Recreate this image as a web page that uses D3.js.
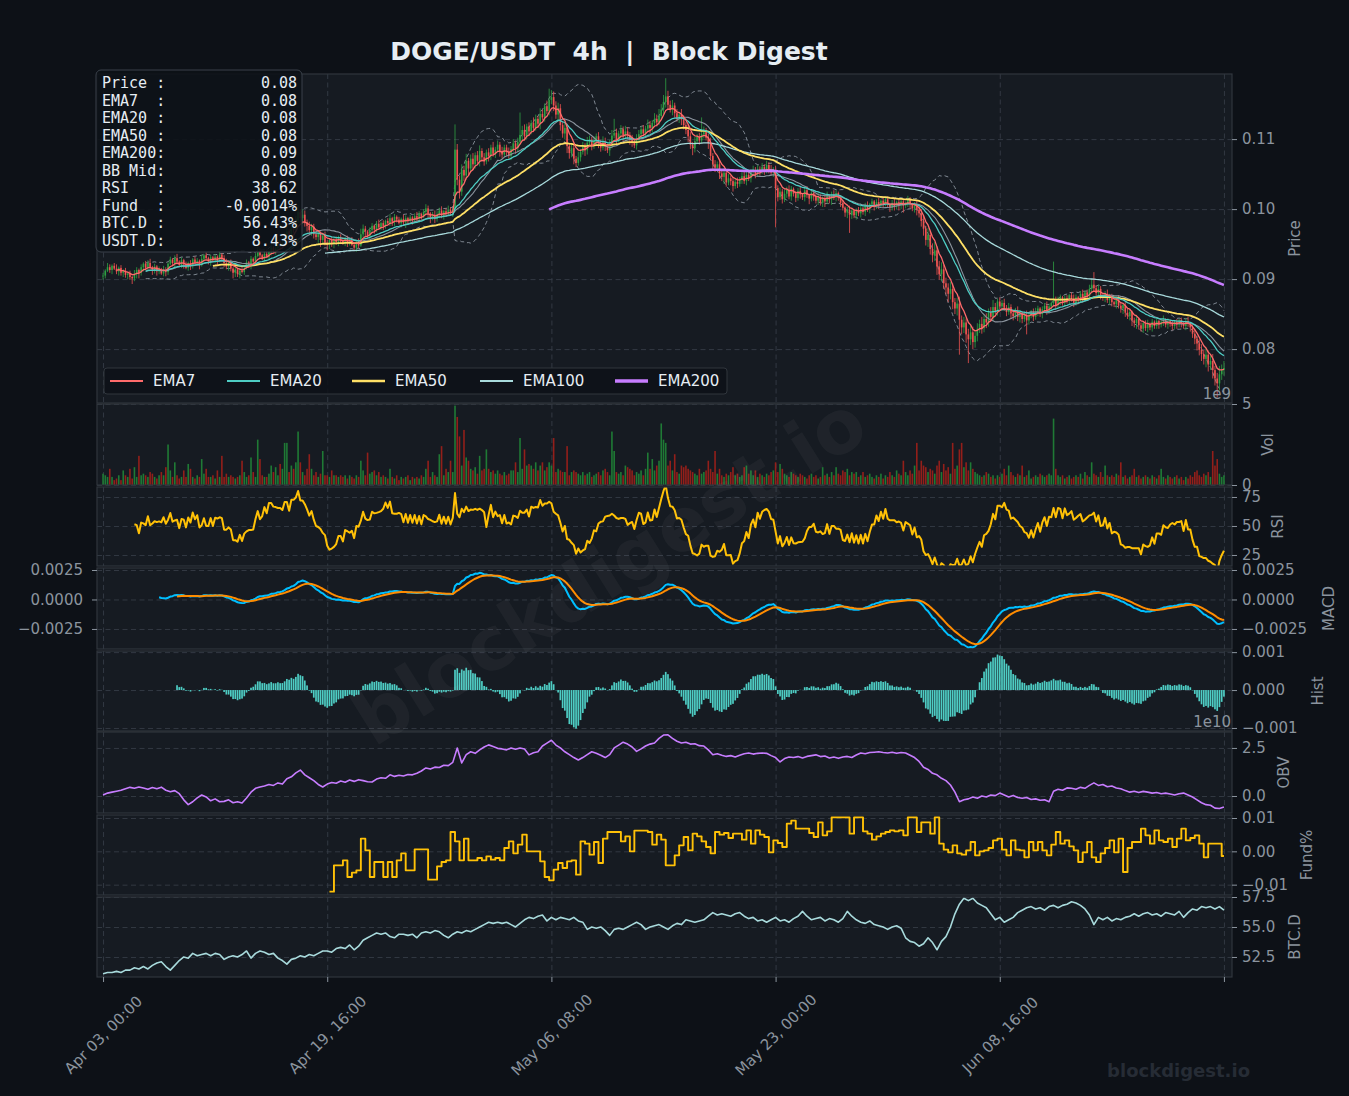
<!DOCTYPE html>
<html lang="en">
<head>
    <meta charset="UTF-8">
    <title>DOGE/USDT 4h | Block Digest</title>
    <script src="https://d3js.org/d3.v7.min.js"></script>
    <style>
        body { margin: 0; background-color: #0d1117; }
        svg { display: block; font-family: "DejaVu Sans", sans-serif; }
        .mono { font-family: "DejaVu Sans Mono", monospace; white-space: pre; }
        .pre { white-space: pre; }
    </style>
</head>
<body>
<svg id="chart" width="1349" height="1096"></svg>
<script>
// 4h candles from Apr 03 00:00, prices in 1e-5 USDT
const startTime = Date.UTC(2024, 3, 3, 0, 0);
const firstOpen = 9050;
const closes = [
9050,9120,9170,9130,9190,9150,9110,9160,9090,9120,9060,9080,9030,9010,9070,
9130,9090,9170,9220,9160,9230,
9170,9120,9180,9110,9140,9080,9130,9100,
9220,9280,9230,9300,9250,
9200,9270,9210,9160,9230,9190,9280,
9230,9260,9200,9290,9340,9300,
9250,9310,9270,9320,9260,9350,9300,
9230,9180,9240,9150,9090,9140,9070,9120,9100,9160,
9240,9200,9290,9250,9330,9400,9340,9290,9360,9320,9400,9450,9390,9440,9500,9460,9510,
9600,9680,9620,9750,9700,9840,9960,9870,9920,9810,9760,
9700,9750,9640,9600,9660,9560,9620,9520,9490,
9560,9500,9570,9530,9600,9540,9510,9580,9520,9560,9490,9450,9520,9480,
9640,9720,9680,9620,9700,9760,9710,9790,9740,9800,9760,9830,9800,
9870,9820,9890,9850,9800,9860,9810,9870,9830,9880,9840,9900,9860,9930,9890,9960,10010,9940,
9880,9920,9860,9930,9980,9910,9970,9930,9990,9950,10000,
10850,10420,10250,10560,10480,10690,10580,10720,10640,10770,10690,10830,10740,10680,10810,10760,
10880,10790,10850,10920,10830,10780,10880,10820,10760,10860,10940,10870,10960,11060,
11130,11040,11180,11110,11230,11160,11290,11220,11360,11310,11470,11400,11560,11600,
11480,11350,11440,11200,11080,11160,10900,10800,10870,10720,10660,10740,
10820,10900,10840,10950,10990,10900,10980,11040,10950,10880,10960,10890,10840,10930,11050,11090,10990,
11080,11140,11050,11110,11060,11000,10950,10910,10990,11070,11140,11080,11150,11200,11160,11230,11290,11240,
11330,11420,11530,11610,11490,11420,11480,11370,11290,11350,11280,
11200,11130,11040,10920,10870,10970,11030,10980,11070,11100,11020,10940,
10760,10640,10590,10640,10510,10460,10520,10380,10440,10400,10330,10390,10360,
10420,10470,10400,10490,10440,10530,10560,10500,10570,10540,10600,10550,10630,10570,10520,10560,
10300,10170,10250,10140,10220,10280,10180,10290,10220,10160,10260,10210,10170,10270,10200,10150,10230,10180,
10120,10170,10090,10160,10110,10190,10140,10210,10170,10230,10160,10090,10020,9950,9990,
9920,9980,9910,9970,9940,10010,9960,10050,10000,10070,10110,10040,10100,
10060,10120,10080,10140,10070,10020,10090,10040,10100,10060,10110,10050,10090,10130,10070,10010,10060,9990,9940,
9830,9720,9560,9630,9430,9340,9410,9180,9070,9140,8940,8880,8790,8860,8670,8580,8650,8420,8310,8380,8210,8140,8240,8100,8190,8290,8360,
8300,8430,8380,8520,8460,8600,8540,8680,8610,8660,8590,
8530,8600,8510,8470,8550,8460,8520,8430,8490,8410,8480,8540,8460,8530,8580,8500,
8570,8620,8550,8610,8660,8710,8630,8690,8740,8660,8730,8690,8770,8720,8660,8740,8700,8790,8730,8810,8760,8860,8920,
8870,8800,8860,8770,8730,8790,8700,8750,8670,8640,8710,8620,8580,8630,8520,8470,8530,8410,8370,8430,8340,
8290,8370,8300,8360,8310,8390,8330,8400,8350,8390,8420,8350,8400,8360,8330,8390,8350,8410,8370,8330,8400,8360,8310,
8220,8150,8080,7990,7930,7860,7920,7780,7830,7700,7580,7510,7640,7700,7730
];
// wick beyond the body, in 2e-4 USDT
const upWick = [
2,1,3,2,1,2,3,1,2,1,2,1,2,1,3,2,1,2,1,2,2,3,1,2,1,2,1,3,2,1,2,1,2,3,1,2,1,2,1,2,
1,2,2,1,3,1,2,1,2,1,2,1,2,1,2,3,1,2,1,2,1,2,3,1,2,1,2,1,2,3,2,1,2,3,1,2,1,2,3,2,
2,3,4,2,3,4,3,5,2,4,3,2,3,2,2,3,2,1,2,3,2,1,2,1,2,1,2,3,1,2,1,2,1,2,3,4,3,2,1,2,
2,1,2,3,1,2,1,2,3,1,2,1,2,1,3,2,1,2,1,2,3,2,1,2,3,2,1,2,3,2,2,3,1,2,3,2,1,18,4,3,
4,3,5,2,3,4,2,3,4,2,3,2,3,2,4,2,3,2,3,2,2,3,2,3,2,3,16,3,4,2,3,2,4,3,2,4,3,2,4,8,
5,4,3,4,3,2,4,3,2,3,3,2,4,2,3,2,4,3,2,3,2,3,2,4,3,2,3,4,10,3,2,3,2,4,3,2,3,2,4,3,
2,3,2,4,3,2,4,3,5,4,5,13,4,3,4,2,3,2,4,3,2,4,3,2,3,2,3,12,4,3,3,4,2,3,2,3,2,3,2,3,
2,3,2,3,2,3,4,2,3,2,3,2,3,2,3,2,3,2,3,2,3,2,3,2,3,2,3,2,1,2,2,3,1,2,3,1,2,1,2,3,
2,1,2,3,1,2,3,2,1,2,2,1,2,3,2,1,2,3,2,1,2,3,1,2,1,2,3,1,2,1,2,1,2,3,1,2,1,2,1,3,
2,1,2,3,2,3,4,2,5,3,4,6,3,4,5,3,4,3,5,4,3,4,5,3,4,3,4,5,4,3,4,3,5,3,4,3,4,5,3,2,
3,2,3,2,3,2,1,2,3,2,1,2,3,2,1,2,3,2,1,2,2,3,2,1,27,2,3,2,1,2,2,1,2,3,2,1,2,3,1,2,
3,4,9,2,3,2,1,2,3,2,2,1,2,3,2,1,2,3,2,1,2,3,1,2,1,2,3,1,2,1,2,1,2,3,1,2,1,2,1,2,
1,2,1,2,3,1,2,3,2,3,4,3,5,3,4,5,3,4,6,4,5
];
const downWick = [
3,2,1,2,3,1,2,3,2,3,2,3,2,4,2,3,4,2,3,1,2,1,3,2,3,2,1,2,3,2,1,2,3,2,1,2,3,1,2,3,
2,1,2,3,1,2,1,2,3,1,2,3,1,2,3,2,3,2,4,3,2,3,1,2,1,2,3,1,2,1,2,1,2,1,2,3,1,2,1,2,
1,2,1,2,3,2,1,2,3,4,3,4,3,4,3,2,4,5,3,2,4,3,2,3,2,3,2,1,2,3,2,1,2,3,2,1,2,3,2,3,
2,3,2,1,2,3,2,1,2,3,3,2,1,3,2,4,2,1,3,2,2,3,2,1,2,3,4,2,3,2,3,2,3,2,1,2,3,2,4,5,
3,4,3,5,3,4,3,2,4,3,3,2,4,3,2,3,2,4,3,2,3,2,3,2,4,3,2,4,3,2,3,2,3,2,3,4,2,3,2,3,
3,4,3,5,4,3,4,5,4,3,4,3,2,3,2,4,3,2,3,2,3,4,3,2,3,2,4,3,2,3,2,3,4,2,3,4,3,2,3,2,
3,2,3,2,4,3,2,3,2,3,3,4,3,2,4,3,2,3,4,3,3,4,3,5,3,2,3,2,3,2,4,3,4,3,2,4,3,5,3,2,
3,4,2,3,2,3,2,3,2,3,2,3,2,3,2,3,2,3,2,3,28,3,2,3,2,3,2,3,2,3,2,3,2,3,2,4,2,3,2,3,
2,3,4,2,3,4,2,3,2,3,2,3,4,13,3,2,3,2,3,2,3,2,3,2,3,2,3,2,3,2,2,3,2,3,2,4,3,5,2,3,
3,2,3,4,3,4,5,4,5,4,5,4,6,4,5,4,5,6,4,5,4,5,25,5,4,6,17,4,5,4,4,3,4,3,4,3,2,3,2,3,
2,3,2,3,2,4,3,2,3,4,3,2,10,3,2,3,2,3,2,3,2,3,2,3,2,3,2,3,2,3,2,3,2,3,2,3,2,3,2,3,
2,3,2,3,2,3,2,3,2,3,3,2,3,2,3,4,3,2,3,4,3,4,3,2,3,2,3,2,3,2,2,3,2,3,2,3,2,3,2,3,
2,3,2,3,2,3,3,4,5,4,5,4,6,5,4,6,5,10,5,4,4
];
// volume in 1e8 DOGE
const volumes = [
7,6,5,10,5,3,4,6,3,9,6,5,10,4,11,5,18,6,7,6,5,8,7,5,4,6,8,6,11,25,9,5,14,6,4,5,9,5,13,10,
5,4,6,5,16,7,10,5,5,6,4,9,5,18,5,7,5,6,5,4,5,6,15,8,5,6,17,8,5,28,16,6,5,5,7,12,8,11,6,13,
10,26,26,8,12,10,14,33,14,8,6,10,19,10,6,8,5,7,21,6,6,5,9,6,6,5,6,5,6,4,6,5,4,6,5,15,9,6,20,7,
8,9,6,8,5,6,5,4,10,5,4,6,3,5,4,5,6,3,5,4,5,4,6,5,10,15,5,8,6,5,19,24,6,10,8,15,8,49,42,30,
12,34,17,15,10,9,11,7,18,9,10,22,10,8,9,7,9,7,6,8,6,7,9,9,14,8,29,10,22,12,13,12,10,14,9,12,14,9,11,14,
12,29,8,10,9,8,8,24,6,8,9,8,7,6,8,6,7,8,5,6,7,8,6,9,10,8,6,33,21,8,7,8,6,12,11,10,9,6,8,7,
9,6,10,20,10,16,9,12,15,38,28,26,12,15,9,19,8,7,12,11,12,10,9,8,7,6,10,7,8,9,15,10,8,21,7,10,6,5,7,6,
8,11,6,7,5,6,11,12,7,9,6,9,5,7,6,5,7,6,8,9,14,8,13,10,7,6,5,8,7,6,5,7,6,5,4,6,7,5,6,4,
5,11,6,7,5,8,6,11,7,6,9,8,10,6,8,7,8,5,6,8,5,6,7,5,4,6,5,7,4,6,5,8,6,5,9,7,6,15,8,6,
9,7,12,26,9,15,12,11,8,10,9,7,12,15,8,13,9,11,7,26,10,12,22,26,11,14,9,14,10,8,7,6,5,6,8,7,5,6,4,6,
5,7,10,6,12,8,6,5,7,6,12,5,6,9,4,5,6,5,7,6,5,6,7,6,41,10,6,5,6,4,5,6,4,5,6,5,7,4,8,6,
5,14,7,6,5,8,5,12,6,5,6,5,7,6,14,5,6,4,5,6,10,5,6,4,5,6,5,4,6,5,4,6,10,5,4,6,5,4,5,6,
4,5,3,5,4,6,5,8,9,6,5,7,6,8,5,21,12,16,7,5,6
];
// OBV in 1e8, one value every 2 candles
const obvValues = [
5,15,20,25,30,38,45,40,47,42,35,44,38,46,30,22,28,12,-20,-45,
-30,-10,5,-5,-25,-15,-30,-28,-20,-35,-30,-36,-10,20,40,47,52,60,55,68,
62,90,100,120,135,110,95,80,60,47,62,70,66,78,72,83,76,85,80,74,
73,88,95,92,110,102,108,104,112,110,118,130,146,140,150,148,160,158,175,250,
172,215,230,222,240,255,266,258,248,245,240,250,243,250,245,214,225,230,260,275,
290,265,250,230,215,200,187,200,215,230,222,212,200,215,250,265,280,270,255,232,
245,260,270,276,300,317,318,300,285,276,280,270,272,262,260,240,215,220,212,206,
210,203,212,220,224,218,222,224,222,210,200,177,195,203,200,205,198,206,210,214,
205,208,198,203,196,203,206,200,213,224,220,226,228,230,226,224,228,222,226,224,
212,200,180,150,138,118,110,92,80,57,20,-30,-20,-15,-5,-12,0,-5,5,2,
15,5,-5,3,-8,-12,-8,-18,-15,-22,-20,-30,25,35,30,42,40,35,45,40,
55,68,55,60,48,52,42,38,28,20,25,18,24,20,15,18,12,15,10,5,
12,15,5,-5,-20,-35,-45,-48,-63,-65,-57
];
// BTC dominance %, one value every 2 candles
const btcDom = [
51.1,51.2,51.2,51.3,51.2,51.4,51.4,51.6,51.5,51.7,51.5,51.8,52.0,52.1,51.7,51.4,51.8,52.2,52.5,52.4,
52.8,52.6,52.7,52.8,52.6,52.8,52.7,52.3,52.5,52.6,52.5,52.7,53.0,52.4,52.8,53.0,52.9,52.7,52.8,52.4,
52.2,51.9,52.3,52.4,52.6,52.5,52.7,52.6,52.8,53.0,53.0,52.9,53.2,53.3,53.2,53.5,53.1,53.4,53.9,54.1,
54.3,54.5,54.4,54.5,54.2,54.1,54.4,54.4,54.3,54.4,54.1,54.5,54.6,54.5,54.7,54.6,54.3,54.1,54.4,54.6,
54.5,54.7,54.6,54.8,55.0,55.2,55.4,55.3,55.4,55.3,55.4,55.2,55.0,55.3,55.6,55.8,55.7,55.9,56.0,55.5,
55.8,55.6,55.8,55.7,55.6,55.8,55.5,55.4,54.8,55.0,54.9,55.0,54.7,54.3,54.8,54.9,54.8,55.0,55.2,55.4,
55.2,54.8,55.0,55.1,55.2,55.0,54.8,55.1,55.3,55.2,55.6,55.5,55.4,55.5,55.6,55.9,56.2,56.0,56.1,56.0,
55.9,56.1,56.2,55.9,55.7,55.8,55.5,55.6,55.4,55.6,55.8,55.5,55.6,55.4,55.7,55.9,56.3,55.9,55.6,55.7,
55.8,55.5,55.7,55.6,55.4,55.7,56.3,55.9,55.6,55.4,55.3,55.5,55.2,55.1,55.0,54.8,55.0,55.1,54.9,54.1,
53.8,53.7,53.4,53.6,54.1,53.7,53.1,53.8,54.2,55.0,56.1,56.9,57.4,57.2,57.4,57.0,56.8,56.6,56.1,55.6,
55.8,55.4,55.6,55.8,56.2,56.4,56.6,56.7,56.5,56.6,56.4,56.7,56.8,56.6,56.8,56.9,57.1,57.0,56.8,56.5,
56.0,55.2,55.8,55.6,55.8,55.5,55.7,55.6,55.8,55.9,56.1,55.9,56.1,56.2,56.0,56.1,55.9,56.2,56.1,56.0,
56.3,55.8,56.2,56.5,56.4,56.7,56.6,56.7,56.5,56.7,56.4
];
// funding rate in 1e-4 %, one value per 8h from candle 101
const fundingStart = 101;
const funding = [
-121,-42,-42,-27,-77,-64,-57,38,3,-77,-32,-32,-77,-32,-77,-27,-6,-57,-57,6,
6,6,-85,-85,-45,-32,-27,58,30,-27,38,-27,-27,-20,-27,-15,-25,-20,-27,10,
30,-6,20,50,0,0,0,-30,-77,-87,-55,-35,-50,-30,-27,-70,30,23,-10,28,
-35,38,58,58,58,30,45,0,62,62,62,58,20,50,35,-42,-42,-12,18,43,
3,53,45,30,13,-6,58,50,55,40,53,53,35,63,23,63,50,43,-3,33,
25,13,83,92,68,68,68,55,43,87,48,60,102,102,102,102,53,102,102,60,
53,35,45,53,58,63,60,63,48,102,102,58,87,87,53,102,23,5,-3,18,
-6,-10,3,28,-12,0,3,10,33,38,5,-12,33,5,3,-18,28,3,28,3,
-12,20,58,23,33,15,3,-32,-3,28,-18,-32,-6,10,33,-3,38,-62,10,28,
28,68,48,23,63,33,28,38,13,38,68,33,40,48,23,-18,23,23,23,-14
];

const infoLabels = ["Price :", "EMA7  :", "EMA20 :", "EMA50 :", "EMA200:", "BB Mid:", "RSI   :", "Fund  :", "BTC.D :", "USDT.D:"];
const infoValues = ["0.08", "0.08", "0.08", "0.08", "0.09", "0.08", "38.62", "-0.0014%", "56.43%", "8.43%"];
const emaNames = ["EMA7", "EMA20", "EMA50", "EMA100", "EMA200"];
const emaSpans = [7, 20, 50, 100, 200];

const W = 1349, H = 1096, left = 97, right = 1232;
const emaColors = ["#ff6b6b", "#4ecdc4", "#ffe066", "#a8dadc", "#c77dff"];
const emaWidths = [1.3, 1.3, 1.8, 1.3, 2.6];
const gridColor = "#363c46", spineColor = "#30363d", tickColor = "#8b949e", panelBg = "#161b22";

const svg = d3.select("#chart");
svg.append("rect").attr("width", W).attr("height", H).attr("fill", "#0d1117");

const N = closes.length;
const x = d3.scaleLinear().domain([-2.7, N + 2.6]).range([left, right]);
const xTicks = d3.range(0, N, 100);
const timeFmt = d3.utcFormat("%b %d, %H:%M");

// ---- candles + indicators ----
const candles = closes.map((c, i) => {
    const close = c / 1e5;
    const open = (i === 0 ? firstOpen : closes[i - 1]) / 1e5;
    return {
        i, open, close,
        high: Math.max(open, close) + upWick[i] * 2e-4,
        low: Math.min(open, close) - downWick[i] * 2e-4,
        vol: volumes[i] * 1e8,
        up: close >= open
    };
});
const closeArr = candles.map(d => d.close);

function ema(values, span, minPeriods) {
    const a = 2 / (span + 1);
    let prev = null, n = 0;
    return values.map(v => {
        if (v == null) return null;
        prev = prev == null ? v : a * v + (1 - a) * prev;
        n++;
        return n >= minPeriods ? prev : null;
    });
}

const emas = emaSpans.map(s => ema(closeArr, s, s));

const bb = closeArr.map((c, i) => {
    if (i < 19) return null;
    const w = closeArr.slice(i - 19, i + 1);
    const m = d3.mean(w), s = d3.deviation(w);
    return { mid: m, up: m + 2 * s, lo: m - 2 * s };
});

const rsi = closeArr.map((c, i) => {
    if (i < 14) return null;
    let g = 0, l = 0;
    for (let k = i - 13; k <= i; k++) {
        const d = closeArr[k] - closeArr[k - 1];
        if (d > 0) g += d; else l -= d;
    }
    return l === 0 ? 100 : 100 - 100 / (1 + g / l);
});

const e12 = ema(closeArr, 12, 1), e26 = ema(closeArr, 26, 1);
const macd = closeArr.map((c, i) => i >= 25 ? e12[i] - e26[i] : null);
const signal = ema(macd, 9, 9);
const hist = macd.map((m, i) => (m != null && signal[i] != null) ? m - signal[i] : null);

// ---- panels ----
const panels = [
    { key: "price", top: 74, bottom: 403, domain: [0.0723, 0.1193], ticks: [0.08, 0.09, 0.10, 0.11], fmt: d3.format(".2f"), label: "Price", labelX: 1295 },
    { key: "vol", top: 404, bottom: 485, domain: [0, 5e9], ticks: [0, 5e9], fmt: v => d3.format("d")(v / 1e9), label: "Vol", labelX: 1268 },
    { key: "rsi", top: 487, bottom: 566, domain: [15.5, 83.6], ticks: [25, 50, 75], fmt: d3.format("d"), label: "RSI", labelX: 1278 },
    { key: "macd", top: 568, bottom: 649, domain: [-0.0042, 0.00267], ticks: [-0.0025, 0, 0.0025], fmt: d3.format(".4f"), label: "MACD", labelX: 1329, both: true },
    { key: "hist", top: 651, bottom: 731, domain: [-0.00108, 0.00103], ticks: [-0.001, 0, 0.001], fmt: d3.format(".3f"), label: "Hist", labelX: 1318 },
    { key: "obv", top: 732, bottom: 813, domain: [-0.885e10, 3.33e10], ticks: [0, 2.5e10], fmt: v => d3.format(".1f")(v / 1e10), label: "OBV", labelX: 1284 },
    { key: "fund", top: 815, bottom: 895, domain: [-0.0131, 0.0109], ticks: [-0.01, 0, 0.01], fmt: d3.format(".2f"), label: "Fund%", labelX: 1307 },
    { key: "btcd", top: 897, bottom: 977, domain: [50.83, 57.5], ticks: [52.5, 55, 57.5], fmt: d3.format(".1f"), label: "BTC.D", labelX: 1295 }
];
const P = {};

function gridStyle(sel) {
    sel.select(".domain").remove();
    sel.selectAll("line").attr("stroke", gridColor).attr("stroke-width", 0.9).attr("stroke-dasharray", "5,3.5");
}

panels.forEach(p => {
    p.y = d3.scaleLinear().domain(p.domain).range([p.bottom, p.top]);
    const g = svg.append("g");
    g.append("rect").attr("x", left).attr("y", p.top).attr("width", right - left).attr("height", p.bottom - p.top).attr("fill", panelBg);
    g.append("g").attr("transform", `translate(${left},0)`)
        .call(d3.axisLeft(p.y).tickValues(p.ticks).tickSize(-(right - left)).tickFormat(""))
        .call(gridStyle);
    g.append("g").attr("transform", `translate(0,${p.top})`)
        .call(d3.axisBottom(x).tickValues(xTicks).tickSize(p.bottom - p.top).tickFormat(""))
        .call(gridStyle);
    svg.append("clipPath").attr("id", "clip-" + p.key).append("rect")
        .attr("x", left).attr("y", p.top).attr("width", right - left).attr("height", p.bottom - p.top);
    p.plot = g.append("g").attr("clip-path", `url(#clip-${p.key})`);
    P[p.key] = p;
});

function drawLine(p, pts, color, width, dash, curve) {
    p.plot.append("path").datum(pts)
        .attr("fill", "none").attr("stroke", color).attr("stroke-width", width)
        .attr("stroke-dasharray", dash || null).attr("stroke-linejoin", "round")
        .attr("d", d3.line().defined(d => d.v != null).curve(curve || d3.curveLinear)
            .x(d => x(d.i)).y(d => p.y(d.v)));
}
const byIndex = arr => arr.map((v, i) => ({ i, v }));

// price panel
const pp = P.price;
drawLine(pp, byIndex(bb.map(b => b && b.up)), "#8b949e", 0.9, "4,3");
drawLine(pp, byIndex(bb.map(b => b && b.lo)), "#8b949e", 0.9, "4,3");

const candleG = pp.plot.append("g");
candleG.selectAll("line").data(candles).join("line")
    .attr("x1", d => x(d.i)).attr("x2", d => x(d.i))
    .attr("y1", d => pp.y(d.high)).attr("y2", d => pp.y(d.low))
    .attr("stroke", d => d.up ? "#2ea043" : "#ef5350").attr("stroke-width", 0.8);
candleG.selectAll("rect").data(candles).join("rect")
    .attr("x", d => x(d.i) - 0.8).attr("width", 1.6)
    .attr("y", d => pp.y(Math.max(d.open, d.close)))
    .attr("height", d => Math.max(0.8, Math.abs(pp.y(d.open) - pp.y(d.close))))
    .attr("fill", d => d.up ? "#2ea043" : "#ef5350");

drawLine(pp, byIndex(bb.map(b => b && b.mid)), "#8b949e", 1.1, null);
[3, 2, 1, 0, 4].forEach(k => drawLine(pp, byIndex(emas[k]), emaColors[k], emaWidths[k]));

// volume
const vp = P.vol;
vp.plot.selectAll("rect").data(candles).join("rect")
    .attr("x", d => x(d.i) - 0.8).attr("width", 1.6)
    .attr("y", d => vp.y(d.vol)).attr("height", d => vp.y(0) - vp.y(d.vol))
    .attr("fill", d => d.up ? "#1f7a35" : "#931f1a");

// RSI
drawLine(P.rsi, byIndex(rsi), "#ffc107", 2);

// MACD
drawLine(P.macd, byIndex(macd), "#00bfff", 2);
drawLine(P.macd, byIndex(signal), "#ff8c00", 2);

// Histogram
const hp = P.hist;
hp.plot.selectAll("rect").data(byIndex(hist).filter(d => d.v != null)).join("rect")
    .attr("x", d => x(d.i) - 0.85).attr("width", 1.7)
    .attr("y", d => hp.y(Math.max(0, d.v))).attr("height", d => Math.abs(hp.y(d.v) - hp.y(0)))
    .attr("fill", "#4ecdc4");

// OBV and BTC.D, every other candle
drawLine(P.obv, obvValues.map((v, k) => ({ i: 2 * k, v: v * 1e8 })), "#c77dff", 1.6);
drawLine(P.btcd, btcDom.map((v, k) => ({ i: 2 * k, v })), "#a8dadc", 1.6);

// Funding (8h steps)
const fundPts = funding.map((v, k) => ({ i: fundingStart + 2 * k, v: v / 1e4 }));
fundPts.push({ i: N - 1, v: fundPts[fundPts.length - 1].v });
drawLine(P.fund, fundPts, "#ffc107", 1.9, null, d3.curveStepAfter);

// ---- spines, axes, labels ----
function axisStyle(sel) {
    sel.select(".domain").remove();
    sel.selectAll(".tick line").attr("stroke", tickColor).attr("stroke-width", 1);
    sel.selectAll(".tick text").attr("fill", tickColor).attr("font-size", 15).attr("font-family", "DejaVu Sans");
}
panels.forEach(p => {
    svg.append("rect").attr("x", left).attr("y", p.top).attr("width", right - left).attr("height", p.bottom - p.top)
        .attr("fill", "none").attr("stroke", spineColor).attr("stroke-width", 1.2);
    svg.append("g").attr("transform", `translate(${right},0)`)
        .call(d3.axisRight(p.y).tickValues(p.ticks).tickFormat(p.fmt).tickSize(5).tickPadding(5))
        .call(axisStyle);
    if (p.both) {
        svg.append("g").attr("transform", `translate(${left},0)`)
            .call(d3.axisLeft(p.y).tickValues(p.ticks).tickFormat(p.fmt).tickSize(5).tickPadding(9))
            .call(axisStyle);
    }
    svg.append("text")
        .attr("transform", `translate(${p.labelX},${(p.top + p.bottom) / 2}) rotate(-90)`)
        .attr("text-anchor", "middle").attr("dominant-baseline", "central")
        .attr("fill", tickColor).attr("font-size", 15).text(p.label);
});

// offset texts
svg.append("text").attr("x", 1231).attr("y", 399).attr("text-anchor", "end")
    .attr("fill", tickColor).attr("font-size", 15).text("1e9");
svg.append("text").attr("x", 1231).attr("y", 727).attr("text-anchor", "end")
    .attr("fill", tickColor).attr("font-size", 15).text("1e10");

// x axis
svg.append("g").attr("transform", `translate(0,${P.btcd.bottom})`)
    .call(d3.axisBottom(x).tickValues(xTicks).tickSize(5)
        .tickFormat(i => i <= 400 ? timeFmt(new Date(startTime + i * 4 * 3600 * 1000)) : ""))
    .call(axisStyle)
    .call(s => s.selectAll(".tick text")
        .attr("y", 0).attr("dy", null)
        .attr("text-anchor", "middle").attr("dominant-baseline", "central")
        .attr("transform", "translate(0,58) rotate(-45)"));

// title
svg.append("text").attr("class", "pre").attr("x", 609).attr("y", 60).attr("text-anchor", "middle")
    .attr("font-size", 25).attr("font-weight", "bold").attr("fill", "#e6edf3")
    .text("DOGE/USDT  4h  |  Block Digest");

// legend
const legend = svg.append("g");
legend.append("rect").attr("x", 104).attr("y", 368).attr("width", 623).attr("height", 26).attr("rx", 3)
    .attr("fill", "#0d1117").attr("fill-opacity", 0.85).attr("stroke", spineColor);
const legendX = [110, 227, 352, 480, 615];
const items = legend.selectAll("g.item").data(emaNames).join("g").attr("class", "item")
    .attr("transform", (d, k) => `translate(${legendX[k]},381)`);
items.append("line").attr("x1", 0).attr("x2", 33)
    .attr("stroke", (d, k) => emaColors[k]).attr("stroke-width", (d, k) => emaWidths[k] + 0.8);
items.append("text").attr("x", 43).attr("dominant-baseline", "central")
    .attr("fill", "#e6edf3").attr("font-size", 15).text(d => d);

// info box
const info = svg.append("g");
info.append("rect").attr("x", 96).attr("y", 70).attr("width", 206).attr("height", 182).attr("rx", 5)
    .attr("fill", "#0d1117").attr("fill-opacity", 0.88).attr("stroke", "#3a414a");
info.selectAll("text.lbl").data(infoLabels).join("text").attr("class", "lbl mono")
    .attr("x", 102).attr("y", (d, k) => 88 + k * 17.5)
    .attr("fill", "#e6edf3").attr("font-size", 15).text(d => d);
info.selectAll("text.val").data(infoValues).join("text").attr("class", "val mono")
    .attr("x", 297).attr("y", (d, k) => 88 + k * 17.5).attr("text-anchor", "end")
    .attr("fill", "#e6edf3").attr("font-size", 15).text(d => d);

// watermarks
svg.append("text").attr("transform", "translate(609,570) rotate(-32)")
    .attr("text-anchor", "middle").attr("dominant-baseline", "central")
    .attr("font-size", 74).attr("font-weight", "bold").attr("fill", "#ffffff").attr("fill-opacity", 0.04)
    .text("blockdigest.io");
svg.append("text").attr("x", 1250).attr("y", 1077).attr("text-anchor", "end")
    .attr("font-size", 18).attr("font-weight", "bold").attr("fill", "#262c35")
    .text("blockdigest.io");
</script>
</body>
</html>
